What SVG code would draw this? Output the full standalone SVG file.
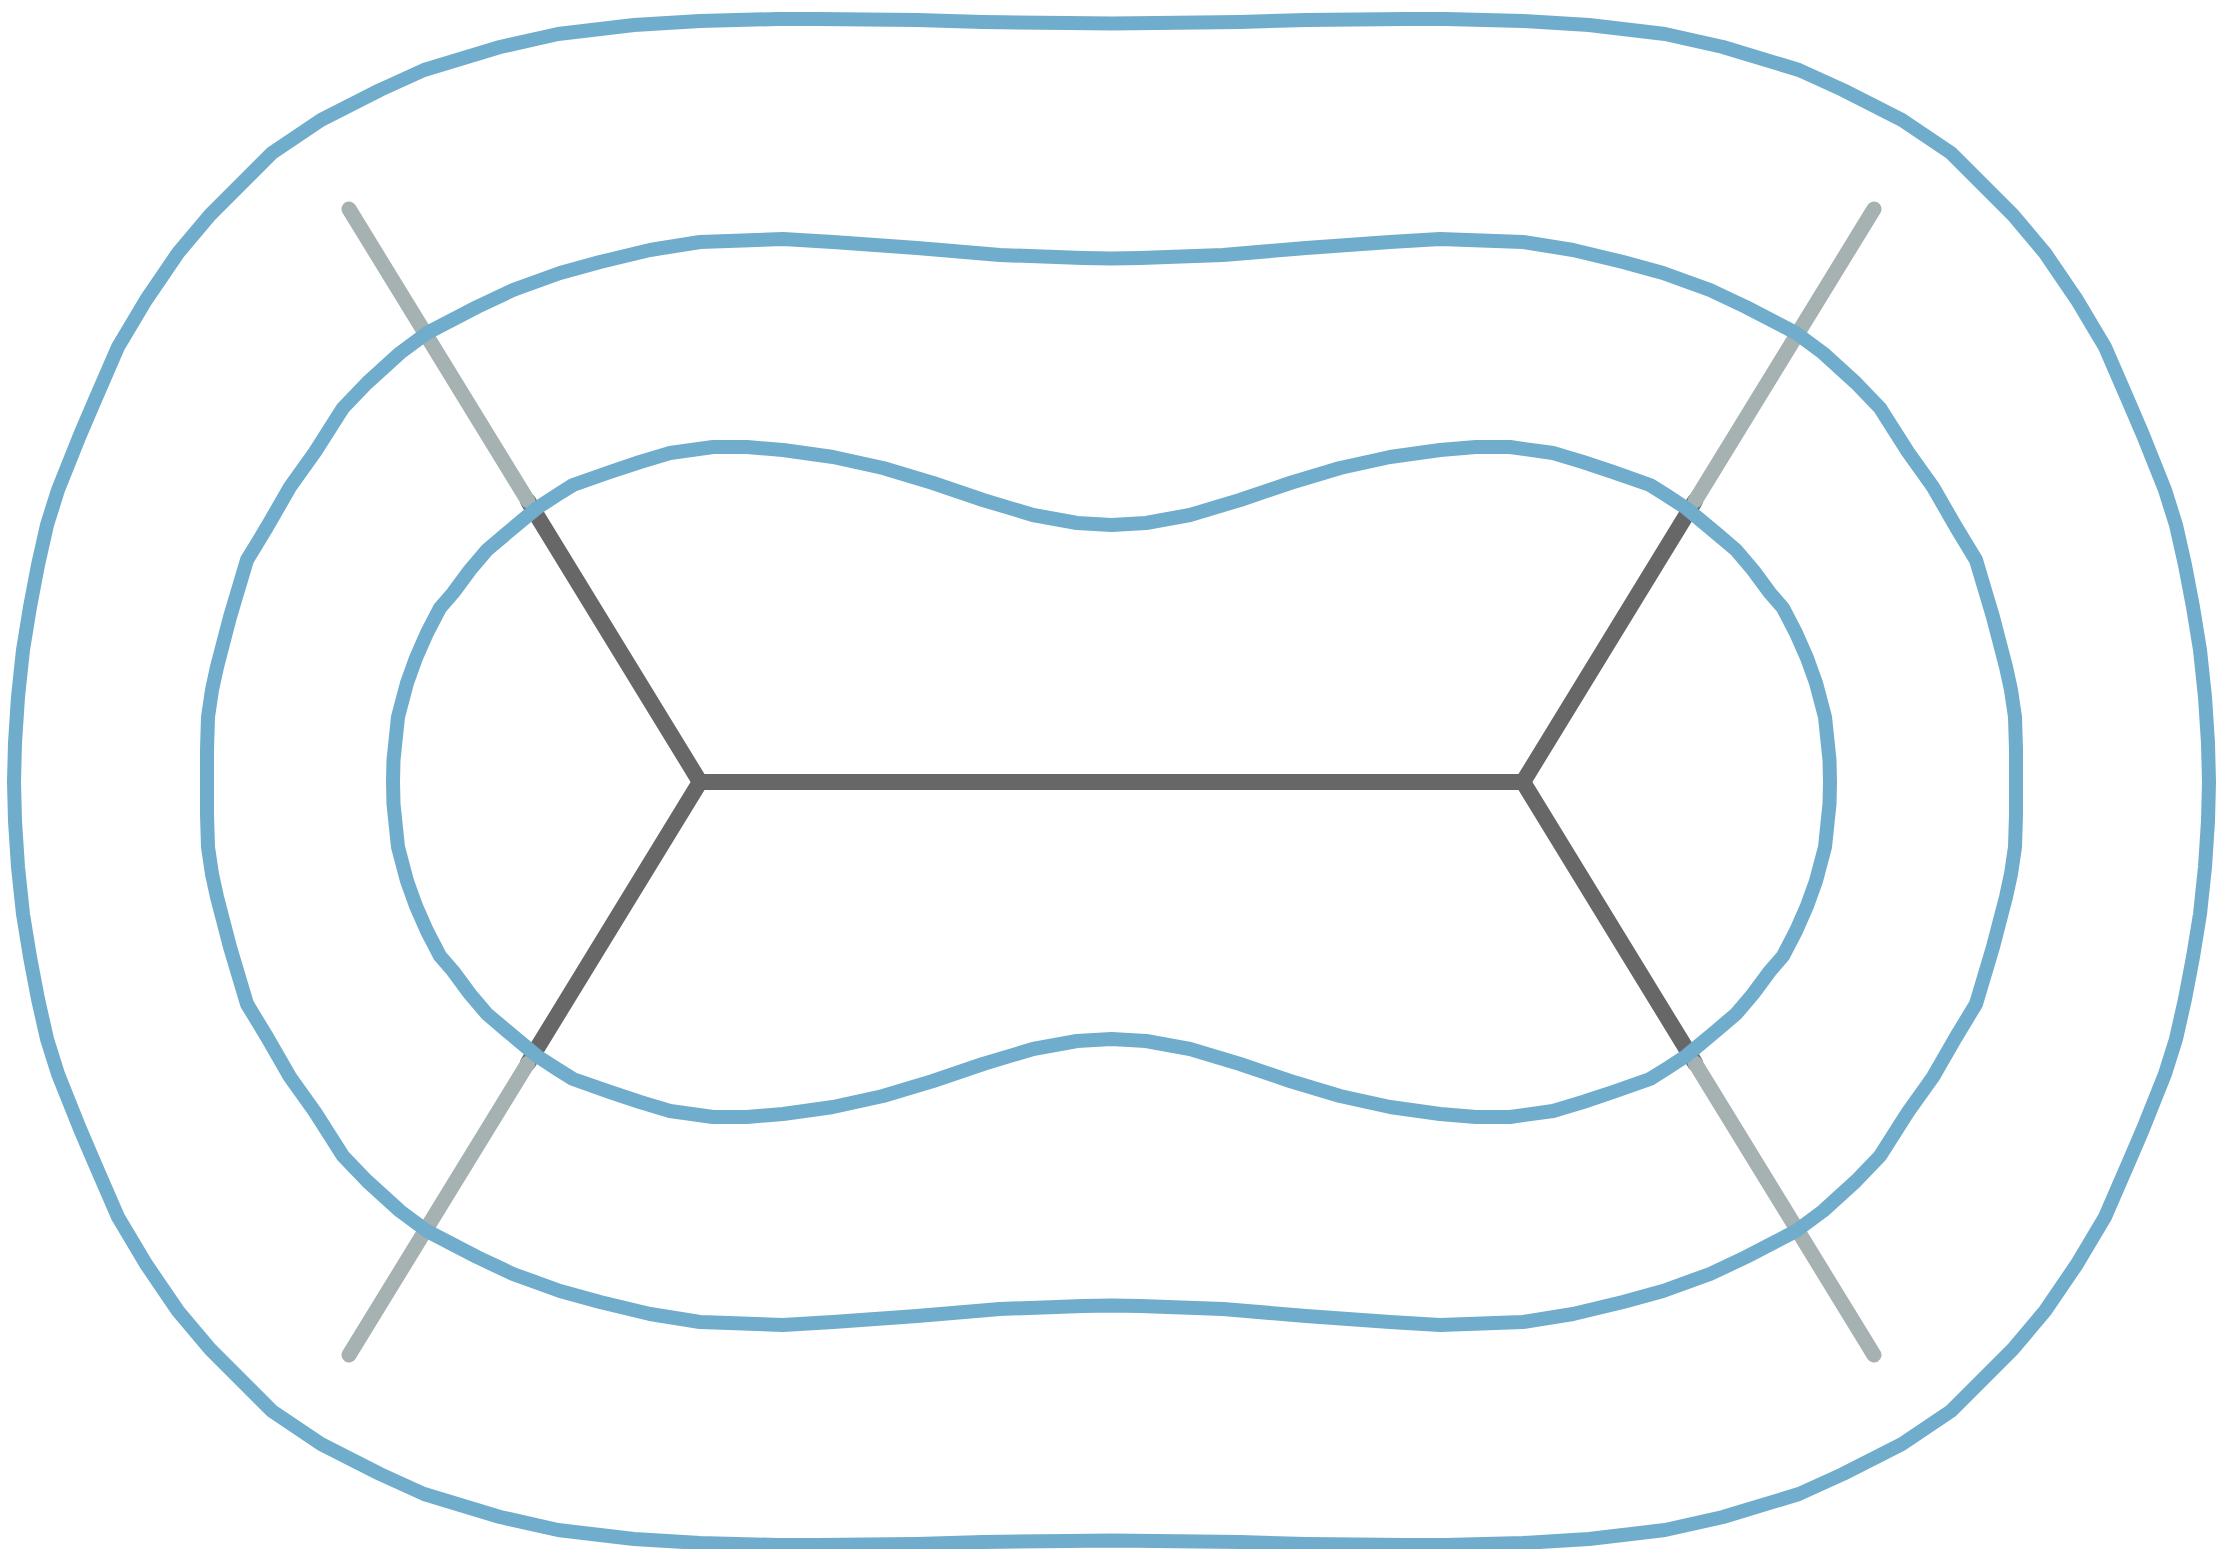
<svg xmlns="http://www.w3.org/2000/svg" width="2223" height="1549" viewBox="0 0 2223 1549">
<style>
.edge{stroke:#676767;stroke-width:16;stroke-linecap:round;fill:none}
.ray{stroke:#a6b1b1;stroke-width:15;stroke-linecap:round;fill:none}
.contour{stroke:#70accb;stroke-width:14;stroke-linejoin:round;fill:none}
</style>
<rect x="0" y="0" width="2223" height="1549" fill="#ffffff"/>
<g id="tree">
<g id="edges-inner">
<line class="edge" x1="700" y1="782" x2="1523" y2="782"/>
<line class="edge" x1="700" y1="782" x2="528" y2="501"/>
<line class="edge" x1="700" y1="782" x2="528" y2="1063"/>
<line class="edge" x1="1523" y1="782" x2="1695" y2="501"/>
<line class="edge" x1="1523" y1="782" x2="1695" y2="1063"/>
</g>
<g id="edges-outer">
<line class="ray" x1="528" y1="501" x2="349" y2="209"/>
<line class="ray" x1="528" y1="1063" x2="349" y2="1355"/>
<line class="ray" x1="1695" y1="501" x2="1874" y2="209"/>
<line class="ray" x1="1695" y1="1063" x2="1874" y2="1355"/>
</g>
</g>
<g id="contours">
<path id="contour-inner" class="contour" d="M393,782 L393.5,760 L398,717 L407,683 L416,658 L427,633 L440,608 L453,593 L470,570 L487,550 L507,533 L537,508 L557,495 L573,485 L610,472 L640,462 L670,453 L713,447 L747,447 L783,450 L833,457 L883,468 L933,483 L983,500 L1033,515 L1077,523 L1111.5,525 L1146,523 L1190,515 L1240,500 L1290,483 L1340,468 L1390,457 L1440,450 L1476,447 L1510,447 L1553,453 L1583,462 L1613,472 L1650,485 L1666,495 L1686,508 L1716,533 L1736,550 L1753,570 L1770,593 L1783,608 L1796,633 L1807,658 L1816,683 L1825,717 L1829.5,760 L1830,782 L1829.5,804 L1825,847 L1816,881 L1807,906 L1796,931 L1783,956 L1770,971 L1753,994 L1736,1014 L1716,1031 L1686,1056 L1666,1069 L1650,1079 L1613,1092 L1583,1102 L1553,1111 L1510,1117 L1476,1117 L1440,1114 L1390,1107 L1340,1096 L1290,1081 L1240,1064 L1190,1049 L1146,1041 L1111.5,1039 L1077,1041 L1033,1049 L983,1064 L933,1081 L883,1096 L833,1107 L783,1114 L747,1117 L713,1117 L670,1111 L640,1102 L610,1092 L573,1079 L557,1069 L537,1056 L507,1031 L487,1014 L470,994 L453,971 L440,956 L427,931 L416,906 L407,881 L398,847 L393.5,804 Z"/>
<path id="contour-middle" class="contour" d="M207,782 L207,750 L208,717 L212,690 L217,667 L230,617 L247,560 L267,527 L290,487 L315,452 L343,408 L367,383 L400,353 L427,333 L477,307 L513,290 L560,273 L600,262 L650,250 L700,242 L783,239 L833,242 L917,248 L1000,255 L1083,258 L1111.5,258.5 L1140,258 L1223,255 L1306,248 L1390,242 L1440,239 L1523,242 L1573,250 L1623,262 L1663,273 L1710,290 L1746,307 L1796,333 L1823,353 L1856,383 L1880,408 L1908,452 L1933,487 L1956,527 L1976,560 L1993,617 L2006,667 L2011,690 L2015,717 L2016,750 L2016,782 L2016,814 L2015,847 L2011,874 L2006,897 L1993,947 L1976,1004 L1956,1037 L1933,1077 L1908,1112 L1880,1156 L1856,1181 L1823,1211 L1796,1231 L1746,1257 L1710,1274 L1663,1291 L1623,1302 L1573,1314 L1523,1322 L1440,1325 L1390,1322 L1306,1316 L1223,1309 L1140,1306 L1111.5,1305.5 L1083,1306 L1000,1309 L917,1316 L833,1322 L783,1325 L700,1322 L650,1314 L600,1302 L560,1291 L513,1274 L477,1257 L427,1231 L400,1211 L367,1181 L343,1156 L315,1112 L290,1077 L267,1037 L247,1004 L230,947 L217,897 L212,874 L208,847 L207,814 Z"/>
<path id="contour-outer" class="contour" d="M14,782 L15,743 L18,697 L23,650 L30,607 L38,565 L47,525 L58,490 L68,465 L80,435 L95,400 L118,347 L146,300 L178,253 L210,215 L242,183 L272,153 L321,120 L380,90 L424,70 L500,47 L558,34 L634,25 L700,21 L777,19 L817,19 L917,20 L983,22 L1067,23 L1111.5,23.5 L1156,23 L1240,22 L1306,20 L1406,19 L1446,19 L1523,21 L1589,25 L1665,34 L1723,47 L1799,70 L1843,90 L1902,120 L1951,153 L1981,183 L2013,215 L2045,253 L2077,300 L2105,347 L2128,400 L2143,435 L2155,465 L2165,490 L2176,525 L2185,565 L2193,607 L2200,650 L2205,697 L2208,743 L2209,782 L2208,821 L2205,867 L2200,914 L2193,957 L2185,999 L2176,1039 L2165,1074 L2155,1099 L2143,1129 L2128,1164 L2105,1217 L2077,1264 L2045,1311 L2013,1349 L1981,1381 L1951,1411 L1902,1444 L1843,1474 L1799,1494 L1723,1517 L1665,1530 L1589,1539 L1523,1543 L1446,1545 L1406,1545 L1306,1544 L1240,1542 L1156,1541 L1111.5,1540.5 L1067,1541 L983,1542 L917,1544 L817,1545 L777,1545 L700,1543 L634,1539 L558,1530 L500,1517 L424,1494 L380,1474 L321,1444 L272,1411 L242,1381 L210,1349 L178,1311 L146,1264 L118,1217 L95,1164 L80,1129 L68,1099 L58,1074 L47,1039 L38,999 L30,957 L23,914 L18,867 L15,821 Z"/>
</g>
</svg>
